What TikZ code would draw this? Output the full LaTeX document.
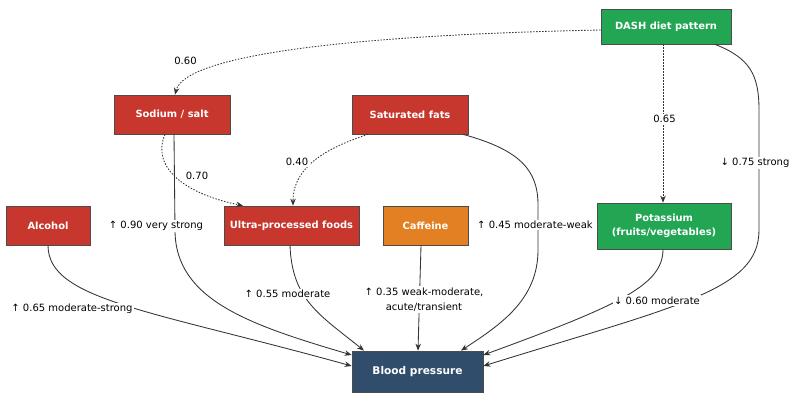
\documentclass[tikz,border=0pt]{standalone}
\usepackage{fontspec}
\setmainfont{DejaVu Sans}
\usetikzlibrary{arrows.meta}
\definecolor{riskred}{HTML}{C8372D}
\definecolor{cafforange}{HTML}{E38024}
\definecolor{dietgreen}{HTML}{22A654}
\definecolor{bpblue}{HTML}{304D6B}
\begin{document}
\begin{tikzpicture}[x=1pt, y=-1pt,
    box/.style={draw=black!70, line width=0.7pt, text=white, align=center,
      font=\bfseries\fontsize{9.9}{14}\selectfont, minimum height=39pt, inner sep=2pt},
    lbl/.style={fill=white, inner sep=1.5pt, align=center, font=\fontsize{10}{15}\selectfont},
    link/.style={draw=black!80, line width=0.85pt, ->, >={Stealth[length=7pt,width=5.5pt]}},
    weak/.style={link, dash pattern=on 1.5pt off 1.5pt}]
    \useasboundingbox[fill=white] (0,0) rectangle (800,401);

    % nodes
    \node[box, fill=dietgreen, minimum width=130pt, minimum height=35pt] (dash) at (666,26.5) {DASH diet pattern};
    \node[box, fill=riskred, minimum width=116pt] (sodium) at (172,114.5) {Sodium / salt};
    \node[box, fill=riskred, minimum width=116pt] (satfat) at (410,114.5) {Saturated fats};
    \node[box, fill=riskred, minimum width=84pt] (alcohol) at (48,225.5) {Alcohol};
    \node[box, fill=riskred, minimum width=135pt] (upf) at (291.5,225.5) {Ultra-processed foods};
    \node[box, fill=cafforange, minimum width=85pt] (caffeine) at (425.5,225.5) {Caffeine};
    \node[box, fill=dietgreen, minimum width=134pt, minimum height=46pt] (potassium) at (664,226) {Potassium\\(fruits/vegetables)};
    \node[box, fill=bpblue, minimum width=131pt, minimum height=41pt, font=\bfseries\fontsize{10.6}{13}\selectfont] (bp) at (417.5,371.5) {Blood pressure};

    % dotted links between factors
    \draw[weak] ([yshift=-3.5pt]dash.west) .. controls (350,35) and (185,55) .. ([xshift=3pt]sodium.north);
    \draw[weak] ([xshift=-3pt]dash.south) -- ([xshift=-1pt]potassium.north);
    \draw[weak] ([xshift=-7pt]sodium.south) .. controls (150,170) and (190,195) .. ([xshift=-48.5pt]upf.north);
    \draw[weak] ([xshift=-42pt]satfat.south) .. controls (320,150) and (293,170) .. ([xshift=1.5pt]upf.north);

    % links into blood pressure
    \draw[link] ([xshift=2pt]sodium.south) -- (175,230) .. controls (175,300) and (250,325) .. ([yshift=16.5pt]bp.west);
    \draw[link] (alcohol.south) .. controls (48,300) and (150,310) .. ([yshift=5.5pt]bp.west);
    \draw[link] ([xshift=-1.5pt]upf.south) .. controls (292,300) and (320,315) .. ([xshift=-53.5pt]bp.north);
    \draw[link] ([xshift=-4.5pt]caffeine.south) -- ([xshift=0.5pt]bp.north);
    \draw[link] ([xshift=53pt]satfat.south) .. controls (520,150) and (538,170) .. (538,205) -- (538,250)
        .. controls (538,300) and (500,325) .. ([xshift=43.5pt]bp.north);
    \draw[link] ([xshift=-1pt]potassium.south) .. controls (663,285) and (620,305) .. ([yshift=16.5pt]bp.east);
    \draw[link] ([xshift=49pt]dash.south) .. controls (750,58) and (759,75) .. (759,110) -- (759,230)
        .. controls (759,290) and (680,305) .. ([yshift=5.5pt]bp.east);

    % labels
    \node[lbl] (l-dash-sodium) at (185.5,61) {0.60};
    \node[lbl] (l-dash-potassium) at (664.5,119) {0.65};
    \node[lbl] (l-sodium-upf) at (197,176) {0.70};
    \node[lbl] (l-satfat-upf) at (297,162) {0.40};
    \node[lbl] (l-sodium) at (156,226) {↑ 0.90 very strong};
    \node[lbl] (l-satfat) at (535,225) {↑ 0.45 moderate-weak};
    \node[lbl] (l-dash) at (755,163) {↓ 0.75 strong};
    \node[lbl] (l-alcohol) at (72,309) {↑ 0.65 moderate-strong};
    \node[lbl] (l-upf) at (287.5,294) {↑ 0.55 moderate};
    \node[lbl] (l-caffeine) at (424,299.5) {↑ 0.35 weak-moderate,\\acute/transient};
    \node[lbl] (l-potassium) at (657,300.5) {↓ 0.60 moderate};
\end{tikzpicture}
\end{document}
